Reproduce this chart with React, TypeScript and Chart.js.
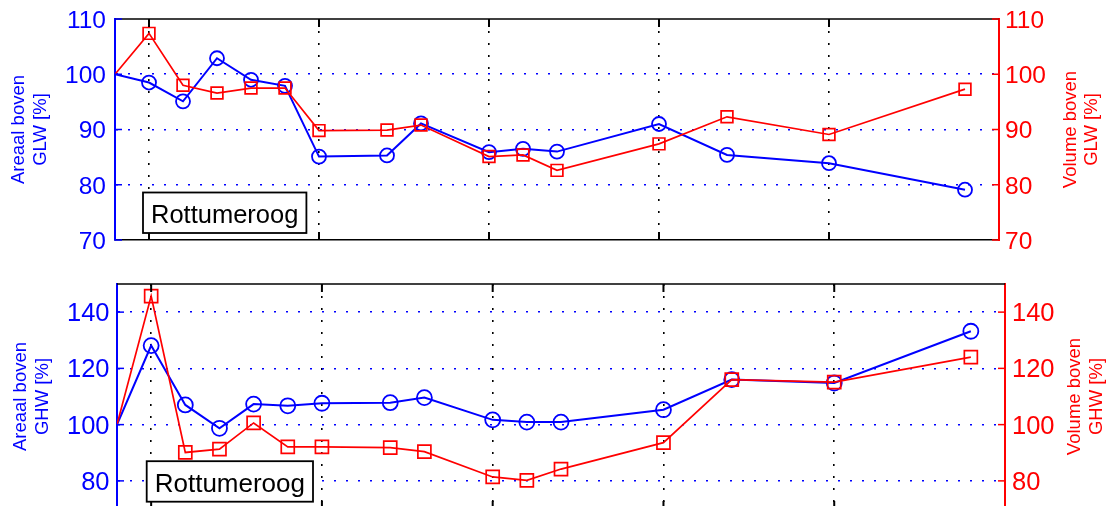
import React, { useEffect, useRef } from 'react';
import { Chart, registerables } from 'chart.js';

Chart.register(...registerables);

// ---- data ----
const years = [1989, 1990, 1991, 1992, 1993, 1994, 1995, 1997, 1998, 2000, 2001, 2002, 2005, 2007, 2010, 2014];
const areaalGLW = [100, 98.5, 95.1, 102.9, 99.0, 97.9, 85.1, 85.3, 91.1, 85.9, 86.5, 86.0, 91.0, 85.4, 83.9, 79.1];
const volumeGLW = [100, 107.4, 98.0, 96.6, 97.5, 97.5, 89.8, 89.9, 90.8, 85.1, 85.4, 82.6, 87.4, 92.3, 89.1, 97.3];
const areaalGHW = [100, 128.1, 107.0, 98.7, 107.3, 106.7, 107.6, 107.8, 109.6, 101.7, 100.9, 100.9, 105.3, 116.0, 114.8, 133.2];
const volumeGHW = [100, 145.7, 90.1, 91.3, 100.6, 92.1, 92.1, 91.8, 90.4, 81.4, 80.2, 84.2, 93.6, 116.0, 115.1, 124.0];
const xTicks = [1990, 1995, 2000, 2005, 2010];
const glwTicks = [70, 80, 90, 100, 110];
const ghwTicks = [80, 100, 120, 140];
const stationLabel = 'Rottumeroog';

const BLUE = '#0000ff';
const RED = '#ff0000';
const FONT = '"Liberation Sans", Arial, Helvetica, sans-serif';

type PanelCfg = {
  area: number[];
  vol: number[];
  yMin: number;
  yMax: number;
  yTicks: number[];
  leftTitle: string[];
  rightTitle: string[];
  height: number;
  plotLeft: number;
  plotRight: number;
  plotTop: number;
  plotBottom: number;
  tickFont: number;
  leftPad: number;
  rightPad: number;
  circleR: number;
  squareR: number;
  leftTitleX: number[];
  rightTitleX: number[];
  boxDx: number;
  boxDy: number;
  boxFont: number;
};

const WIDTH = 1107;

const topCfg: PanelCfg = {
  area: areaalGLW,
  vol: volumeGLW,
  yMin: 70,
  yMax: 110,
  yTicks: glwTicks,
  leftTitle: ['Areaal boven', 'GLW [%]'],
  rightTitle: ['Volume boven', 'GLW [%]'],
  height: 250,
  plotLeft: 115,
  plotRight: 999,
  plotTop: 19,
  plotBottom: 243,
  tickFont: 24.5,
  leftPad: 9,
  rightPad: 6,
  circleR: 7,
  squareR: 8.3,
  leftTitleX: [18.5, 41],
  rightTitleX: [1070.5, 1091.5],
  boxDx: 28,
  boxDy: 7,
  boxFont: 25.5,
};

const botCfg: PanelCfg = {
  area: areaalGHW,
  vol: volumeGHW,
  yMin: 70,
  yMax: 150,
  yTicks: ghwTicks,
  leftTitle: ['Areaal boven', 'GHW [%]'],
  rightTitle: ['Volume boven', 'GHW [%]'],
  height: 270,
  plotLeft: 117,
  plotRight: 1005,
  plotTop: 34,
  plotBottom: 259,
  tickFont: 25.5,
  leftPad: 7.5,
  rightPad: 7,
  circleR: 7.5,
  squareR: 9.2,
  leftTitleX: [21, 43],
  rightTitleX: [1075, 1097],
  boxDx: 29.7,
  boxDy: 7.3,
  boxFont: 26,
};

const decorPlugin = {
  id: 'panelDecor',
  afterDraw(chart: any, _args: any, opts: any) {
    const { ctx, chartArea: a, scales } = chart;
    const cfg: PanelCfg = opts.cfg;
    if (!cfg) return;
    ctx.save();
    // top border
    ctx.strokeStyle = '#000';
    ctx.lineWidth = 1.5;
    ctx.beginPath();
    ctx.moveTo(a.left, a.top);
    ctx.lineTo(a.right, a.top);
    ctx.stroke();
    // inward x ticks
    ctx.lineWidth = 2;
    for (const v of xTicks) {
      const px = scales.x.getPixelForValue(v);
      ctx.beginPath();
      ctx.moveTo(px, a.top);
      ctx.lineTo(px, a.top + 8);
      ctx.moveTo(px, a.bottom);
      ctx.lineTo(px, a.bottom - 8);
      ctx.stroke();
    }
    // inward y ticks
    ctx.lineWidth = 1.5;
    for (const v of cfg.yTicks) {
      const py = scales.y.getPixelForValue(v);
      ctx.strokeStyle = BLUE;
      ctx.beginPath();
      ctx.moveTo(a.left, py);
      ctx.lineTo(a.left + 7, py);
      ctx.stroke();
      const py2 = scales.y1.getPixelForValue(v);
      ctx.strokeStyle = RED;
      ctx.beginPath();
      ctx.moveTo(a.right, py2);
      ctx.lineTo(a.right - 7, py2);
      ctx.stroke();
    }
    // axis titles (rotated, reading upward)
    const midY = (a.top + a.bottom) / 2;
    const drawRot = (text: string, x: number, color: string) => {
      ctx.save();
      ctx.translate(x, midY);
      ctx.rotate(-Math.PI / 2);
      ctx.font = `18.5px ${FONT}`;
      ctx.fillStyle = color;
      ctx.textAlign = 'center';
      ctx.textBaseline = 'middle';
      ctx.fillText(text, 0, 0);
      ctx.restore();
    };
    cfg.leftTitle.forEach((t, i) => drawRot(t, cfg.leftTitleX[i], BLUE));
    cfg.rightTitle.forEach((t, i) => drawRot(t, cfg.rightTitleX[i], RED));
    // station label box
    ctx.font = `${cfg.boxFont}px ${FONT}`;
    const tw = ctx.measureText(stationLabel).width;
    const bw = tw + 16;
    const bh = 40.5;
    const bx = a.left + cfg.boxDx;
    const by = a.bottom - cfg.boxDy - bh;
    ctx.fillStyle = '#fff';
    ctx.fillRect(bx, by, bw, bh);
    ctx.strokeStyle = '#000';
    ctx.lineWidth = 1.8;
    ctx.strokeRect(bx, by, bw, bh);
    ctx.fillStyle = '#000';
    ctx.textAlign = 'center';
    ctx.textBaseline = 'alphabetic';
    ctx.fillText(stationLabel, bx + bw / 2, by + bh - 10);
    ctx.restore();
  },
};

function makeChart(canvas: HTMLCanvasElement, cfg: PanelCfg) {
  const xScaleHeight = cfg.height - cfg.plotBottom;
  const rightWidth = WIDTH - cfg.plotRight;
  const yTickSetter = (s: any) => {
    s.ticks = cfg.yTicks.map((v) => ({ value: v }));
  };
  const noPad = (s: any) => {
    s.paddingTop = 0;
    s.paddingBottom = 0;
    s.paddingLeft = 0;
    s.paddingRight = 0;
  };
  const gridColor = (c: any) =>
    c.tick && (c.tick.value === cfg.yMin || c.tick.value === cfg.yMax) ? 'rgba(0,0,0,0)' : BLUE;
  return new Chart(canvas, {
    type: 'line',
    data: {
      datasets: [
        {
          label: 'Volume',
          data: years.map((x, i) => ({ x, y: cfg.vol[i] })),
          yAxisID: 'y1',
          borderColor: RED,
          backgroundColor: 'rgba(0,0,0,0)',
          borderWidth: 1.7,
          pointStyle: 'rect',
          pointRadius: (c: any) => (c.dataIndex === 0 ? 0 : cfg.squareR),
          pointBorderWidth: 1.7,
          pointBorderColor: RED,
          pointBackgroundColor: 'rgba(0,0,0,0)',
          tension: 0,
          order: 0,
        },
        {
          label: 'Areaal',
          data: years.map((x, i) => ({ x, y: cfg.area[i] })),
          yAxisID: 'y',
          borderColor: BLUE,
          backgroundColor: 'rgba(0,0,0,0)',
          borderWidth: 2,
          pointStyle: 'circle',
          pointRadius: (c: any) => (c.dataIndex === 0 ? 0 : cfg.circleR),
          pointBorderWidth: 1.8,
          pointBorderColor: BLUE,
          pointBackgroundColor: 'rgba(0,0,0,0)',
          tension: 0,
          order: 1,
        },
      ],
    },
    options: {
      responsive: false,
      animation: false,
      devicePixelRatio: 1,
      events: [],
      layout: { padding: { top: cfg.plotTop, left: 0, right: 0, bottom: 0 } },
      plugins: {
        legend: { display: false },
        tooltip: { enabled: false },
        panelDecor: { cfg },
      } as any,
      scales: {
        x: {
          type: 'linear',
          min: 1989,
          max: 2015,
          afterBuildTicks: (s: any) => {
            s.ticks = xTicks.map((v) => ({ value: v }));
          },
          afterFit: (s: any) => {
            s.height = xScaleHeight;
            noPad(s);
          },
          ticks: { display: false },
          grid: { color: '#000', lineWidth: 1.6, drawTicks: false },
          border: { color: '#000', width: 1.5, dash: [2, 10] },
        },
        y: {
          type: 'linear',
          position: 'left',
          min: cfg.yMin,
          max: cfg.yMax,
          afterBuildTicks: yTickSetter,
          afterFit: (s: any) => {
            s.width = cfg.plotLeft;
            noPad(s);
          },
          ticks: {
            color: BLUE,
            font: { family: FONT, size: cfg.tickFont },
            padding: cfg.leftPad,
            labelOffset: 2,
            autoSkip: false,
          },
          grid: { color: gridColor, lineWidth: 1.6, drawTicks: false },
          border: { color: BLUE, width: 2, dash: [2, 10] },
        },
        y1: {
          type: 'linear',
          position: 'right',
          min: cfg.yMin,
          max: cfg.yMax,
          afterBuildTicks: yTickSetter,
          afterFit: (s: any) => {
            s.width = rightWidth;
            noPad(s);
          },
          ticks: {
            color: RED,
            font: { family: FONT, size: cfg.tickFont },
            padding: cfg.rightPad,
            labelOffset: 2,
            autoSkip: false,
          },
          grid: { drawOnChartArea: false, drawTicks: false },
          border: { color: RED, width: 2 },
        },
      },
    } as any,
    plugins: [decorPlugin],
  });
}

export default function App() {
  const topRef = useRef<HTMLCanvasElement>(null);
  const botRef = useRef<HTMLCanvasElement>(null);
  useEffect(() => {
    const c1 = makeChart(topRef.current as HTMLCanvasElement, topCfg);
    const c2 = makeChart(botRef.current as HTMLCanvasElement, botCfg);
    return () => {
      c1.destroy();
      c2.destroy();
    };
  }, []);
  return (
    <div
      style={{
        position: 'absolute',
        left: 0,
        top: 0,
        width: WIDTH,
        height: 506,
        overflow: 'hidden',
        background: '#fff',
      }}
    >
      <canvas
        ref={topRef}
        width={WIDTH}
        height={topCfg.height}
        style={{ position: 'absolute', left: 0, top: 0 }}
      />
      <canvas
        ref={botRef}
        width={WIDTH}
        height={botCfg.height}
        style={{ position: 'absolute', left: 0, top: 250 }}
      />
    </div>
  );
}
